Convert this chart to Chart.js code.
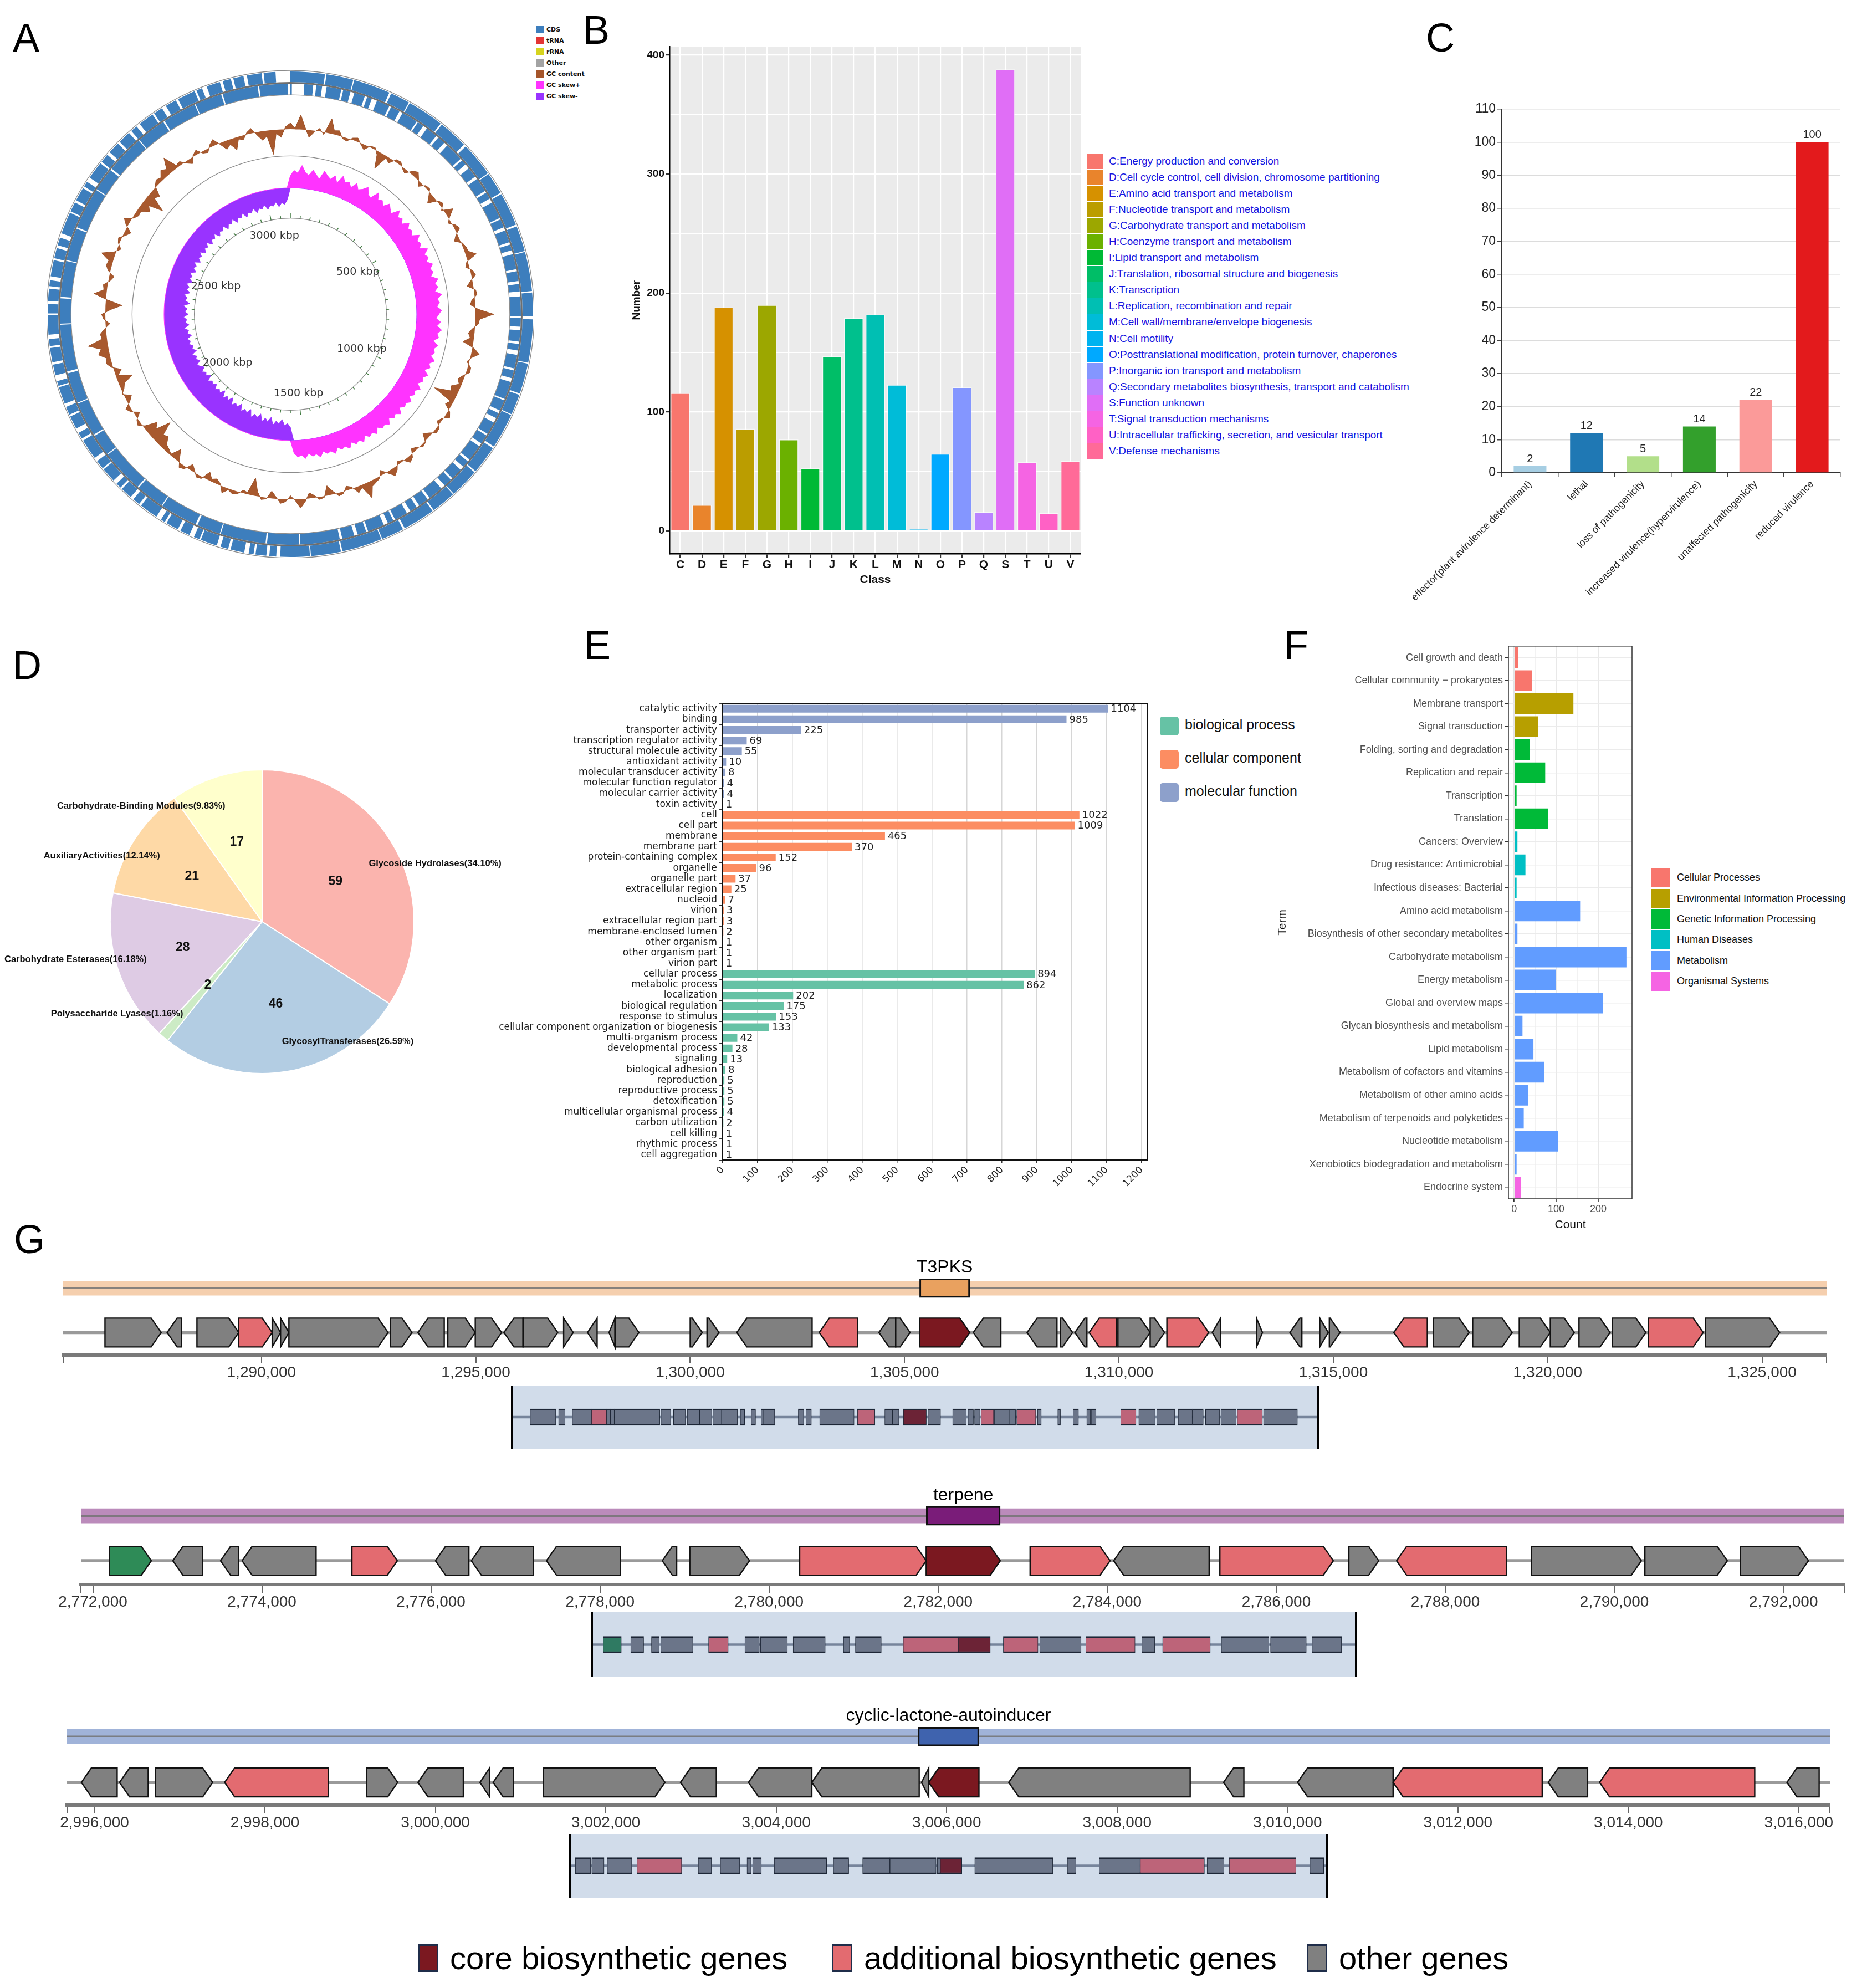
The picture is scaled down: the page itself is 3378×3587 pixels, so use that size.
<!DOCTYPE html>
<html lang="en">
<head>
<meta charset="UTF-8">
<title>Genome features</title>
<script src="https://cdn.jsdelivr.net/npm/chart.js"></script>
<style>
    html, body { margin: 0; padding: 0; background: #fff; }
    body { position: relative; width: 3378px; height: 3587px; overflow: hidden;
           font-family: "Liberation Sans", Arial, sans-serif; }
    canvas { position: absolute; }
    .tag { position: absolute; font-size: 72px; line-height: 1; color: #000; }
    .abs { position: absolute; }

    .legend-a { left: 968px; top: 43px; font: bold 11px "DejaVu Sans", sans-serif; color: #111; }
    .legend-a div { height: 20px; display: flex; align-items: center; }
    .legend-a span { width: 13px; height: 13px; margin-right: 5px; }

    .legend-b { left: 1962px; top: 276px; font-size: 19px; color: #1515e0; }
    .legend-b div { height: 29.1px; display: flex; align-items: center; }
    .legend-b span { width: 28px; height: 28px; margin-right: 11px; }

    .legend-e { left: 2093px; top: 1293px; font-size: 25px; color: #111; }
    .legend-e div { height: 60px; display: flex; align-items: flex-start; }
    .legend-e span { width: 34px; height: 34px; border-radius: 5px; margin-right: 11px; }

    .legend-f { left: 2980px; top: 1565px; font-size: 18px; color: #111; }
    .legend-f div { height: 37.4px; display: flex; align-items: center; }
    .legend-f span { width: 34px; height: 35px; margin-right: 12px; }

    .legend-g { top: 3504px; font-size: 58px; line-height: 58px; color: #000; display: flex; align-items: center; }
    .legend-g span { width: 37px; height: 50px; border: 3px solid #1f2d4a; box-sizing: border-box; margin-right: 21px; }
</style>
</head>
<body>
    <div class="tag" style="left:23px;top:32px;">A</div>
    <div class="tag" style="left:1052px;top:18px;">B</div>
    <div class="tag" style="left:2573px;top:32px;">C</div>
    <div class="tag" style="left:23px;top:1164px;">D</div>
    <div class="tag" style="left:1054px;top:1128px;">E</div>
    <div class="tag" style="left:2317px;top:1128px;">F</div>
    <div class="tag" style="left:25px;top:2200px;">G</div>

    <div class="abs legend-a">
        <div><span style="background:#3d7ebd"></span>CDS</div>
        <div><span style="background:#e33434"></span>tRNA</div>
        <div><span style="background:#d6d41e"></span>rRNA</div>
        <div><span style="background:#a3a3a3"></span>Other</div>
        <div><span style="background:#a5552a"></span>GC content</div>
        <div><span style="background:#ff33ff"></span>GC skew+</div>
        <div><span style="background:#9933ff"></span>GC skew-</div>
    </div>
    <div class="abs legend-b" id="legendB"></div>
    <div class="abs legend-e">
        <div><span style="background:#66c2a5"></span>biological process</div>
        <div><span style="background:#fc8d62"></span>cellular component</div>
        <div><span style="background:#8da0cb"></span>molecular function</div>
    </div>
    <div class="abs legend-f" id="legendF"></div>
    <div class="abs legend-g" style="left:754px;"><span style="background:#7b1820"></span>core biosynthetic genes</div>
    <div class="abs legend-g" style="left:1501px;"><span style="background:#e36b70"></span>additional biosynthetic genes</div>
    <div class="abs legend-g" style="left:2358px;"><span style="background:#808080"></span>other genes</div>

<script>
// ---------------- A: circular genome map ----------------
const genomeKbp = 3100;
// alternating gene / gap lengths (kbp) read around each strand ring
const cdsForward = [
    70,3, 55,2, 75,4, 40,2, 75,3, 60,5, 70,2, 45,3, 68,4, 52,2, 80,3, 48,6,
    88,2, 62,3, 42,2, 72,4, 58,3, 60,2, 50,3, 66,4, 46,2, 82,3, 61,2, 60,8,
    14,6, 22,4, 10,9, 28,5, 16,8, 34,3, 12,10, 20,6, 26,4, 9,11, 38,5, 15,7,
    24,4, 11,9, 30,3, 18,8, 42,5, 13,10, 27,4, 17,7, 35,3, 10,12, 22,5, 29,4,
    14,9, 40,3, 19,6, 25,5, 12,8, 33,4, 21,6, 16,9, 45,3, 20,5, 28,4, 11,10,
    36,4, 18,7, 24,5, 26,6, 14,8, 32,4, 19,9, 23,5, 37,4, 12,10, 28,6, 17,5,
    21,7, 30,4, 24,30
];
const cdsReverse = [
    3,25, 18,6, 12,9, 30,4, 15,8, 22,5, 10,11, 27,4, 19,7, 33,3, 13,9, 24,5,
    16,8, 38,4, 11,10, 21,6, 29,4, 14,9, 35,3, 17,7, 25,5, 12,8, 31,4, 20,6,
    15,10, 40,3, 18,7, 23,5, 13,9, 28,4, 16,8, 36,3, 22,6, 11,10, 26,4, 19,7,
    33,5, 14,8, 24,4, 17,9, 30,5, 21,6, 15,8, 27,4, 12,9, 34,4, 18,7, 25,5,
    80,2, 65,3, 92,2, 48,4, 76,2, 58,3, 88,2, 44,3, 70,2, 62,4, 95,2, 51,3,
    73,2, 66,3, 84,2, 47,4, 78,2, 60,3, 69,2, 55,3, 72,3, 58,5
];
// GC content deviation from the mean (%), one value every 1.5 degrees from the origin
const gcContent = [
    1.0,0.2, 2.4,0.4, -1.2,-0.2, 0.5,-0.4, 2.4,0.6, 0.8,-0.3, -0.5,0.3, 0.6,-0.2, -0.8,0.2, 0.3,-0.6,
    -2.7,-0.3, -0.8,0.4, 0.5,-0.2, -0.6,0.5, 1.0,0.2, -0.7,0.3, 0.4,-0.5, -1.4,0.2, 0.6,-0.3, 1.4,0.3,
    -0.5,0.4, 0.8,-0.3, -0.9,0.2, 0.5,0.6, 1.7,-0.2, -0.6,0.4, 0.7,-0.3, -1.0,0.3, 0.4,-0.5, -0.8,0.5,
    3.0,0.7, 0.5,-0.4, -1.0,-0.6, -1.7,0.3, 1.3,0.2, -0.4,0.5, 0.6,-0.3, -0.9,-0.4, -1.5,-1.2, -3.8,-0.5,
    -1.0,0.3, 0.8,-0.2, -0.6,0.4, 0.5,-0.4, -1.1,0.2, 0.4,-0.3, -0.7,0.5, 0.9,-0.2, -0.5,0.6, 1.2,0.2,
    -0.8,0.3, 0.6,0.9, 2.6,0.4, 1.0,-0.3, -0.7,0.3, 0.5,-0.5, -1.6,0.2, 0.4,-0.4, -0.9,0.5, 1.5,0.2,
    -0.6,0.4, 0.7,-0.3, -1.2,0.2, 0.4,-0.8, -2.9,-0.3, -0.5,0.4, 0.6,0.2, 1.0,-0.3, -0.8,-0.4, -1.3,0.3,
    0.5,-0.3, -1.0,0.4, 0.7,-0.5, -1.8,-0.2, -0.6,-0.9, -2.0,-1.6, -3.8,-1.4, -2.2,-0.3, 0.6,0.2, -0.9,0.3,
    0.8,-0.4, -1.1,0.2, -0.5,-0.9, -2.6,-0.4, -1.2,0.3, 0.9,0.6, 1.8,1.2, 3.2,0.8, 1.0,0.2, -0.7,0.3,
    0.6,-0.9, -2.7,-0.2, 2.0,0.5, 0.7,-0.3, -0.8,0.4, 0.9,0.7, 2.2,0.3, -0.6,0.2, 0.5,-0.4, -1.0,0.3,
    1.1,-0.2, -0.7,-0.6, -1.8,-1.1, -3.4,-1.0, -1.5,0.2, 0.8,0.5, 1.4,0.9, 2.6,0.4, 0.6,-0.3, -0.9,0.2,
    0.7,-0.3, -0.6,0.4, 1.0,-0.2, -1.4,-0.8, -2.0,-0.4, -0.7,0.3, 0.8,-0.5, -1.5,-0.9, -4.0,-0.6, -1.3,0.4
];
const gcSkew = [
    0.030,0.042,0.036,0.055,0.040,0.033,0.047,0.038,0.028,0.050,
    0.041,0.035,0.046,0.031,0.052,0.039,0.044,0.034,0.049,0.037,
    0.043,0.054,0.040,0.036,0.057,0.042,0.048,0.038,0.053,0.045,
    0.039,0.058,0.044,0.050,0.041,0.056,0.046,0.051,0.043,0.060,
    0.048,0.053,0.045,0.062,0.049,0.055,0.047,0.059,0.050,0.054,
    0.046,0.061,0.052,0.057,0.048,0.063,0.051,0.056,0.049,0.060,
    0.053,0.047,0.058,0.050,0.062,0.052,0.057,0.046,0.059,0.051,
    0.055,0.048,0.061,0.050,0.056,0.045,0.058,0.049,0.053,0.044,
    0.057,0.047,0.052,0.043,0.055,0.046,0.050,0.041,0.054,0.044,
    0.049,0.040,0.052,0.045,0.048,0.039,0.051,0.042,0.047,0.038,
    0.050,0.041,0.046,0.037,0.049,0.040,0.044,0.036,0.048,0.039,
    0.043,0.035,0.047,0.038,0.042,0.034,0.045,0.036,0.040,0.030,
    -0.032,-0.041,-0.036,-0.050,-0.039,-0.045,-0.034,-0.052,-0.040,-0.047,
    -0.037,-0.054,-0.043,-0.049,-0.039,-0.056,-0.045,-0.051,-0.042,-0.058,
    -0.047,-0.053,-0.044,-0.060,-0.049,-0.055,-0.046,-0.062,-0.050,-0.056,
    -0.048,-0.059,-0.052,-0.057,-0.049,-0.063,-0.053,-0.058,-0.050,-0.061,
    -0.054,-0.048,-0.060,-0.052,-0.057,-0.047,-0.062,-0.053,-0.058,-0.050,
    -0.055,-0.049,-0.061,-0.052,-0.056,-0.046,-0.059,-0.051,-0.054,-0.047,
    -0.058,-0.050,-0.055,-0.045,-0.060,-0.049,-0.053,-0.044,-0.057,-0.048,
    -0.052,-0.043,-0.056,-0.047,-0.051,-0.042,-0.055,-0.046,-0.050,-0.041,
    -0.054,-0.045,-0.049,-0.040,-0.053,-0.044,-0.048,-0.039,-0.052,-0.043,
    -0.047,-0.038,-0.051,-0.042,-0.046,-0.037,-0.050,-0.041,-0.045,-0.036,
    -0.049,-0.040,-0.044,-0.035,-0.048,-0.039,-0.043,-0.034,-0.047,-0.038,
    -0.042,-0.033,-0.046,-0.037,-0.041,-0.032,-0.044,-0.035,-0.039,-0.028
];

// ---------------- B: COG ----------------
const cogClasses = ['C','D','E','F','G','H','I','J','K','L','M','N','O','P','Q','S','T','U','V'];
const cogCounts = [116, 22, 188, 86, 190, 77, 53, 147, 179, 182, 123, 2, 65, 121, 16, 388, 58, 15, 59];
const cogNames = [
    'Energy production and conversion',
    'Cell cycle control, cell division, chromosome partitioning',
    'Amino acid transport and metabolism',
    'Nucleotide transport and metabolism',
    'Carbohydrate transport and metabolism',
    'Coenzyme transport and metabolism',
    'Lipid transport and metabolism',
    'Translation, ribosomal structure and biogenesis',
    'Transcription',
    'Replication, recombination and repair',
    'Cell wall/membrane/envelope biogenesis',
    'Cell motility',
    'Posttranslational modification, protein turnover, chaperones',
    'Inorganic ion transport and metabolism',
    'Secondary metabolites biosynthesis, transport and catabolism',
    'Function unknown',
    'Signal transduction mechanisms',
    'Intracellular trafficking, secretion, and vesicular transport',
    'Defense mechanisms'
];
const cogColors = ['#F8766D','#E9842C','#D69100','#BB9D00','#9CA700','#6BB100','#00B935','#00BE67','#00C08D',
                   '#00BFB3','#00BCD8','#00B3F0','#00A9FF','#8496FF','#B983FF','#E06EF6','#F564E3','#FF61C5','#FF6A98'];
const cogTicks = [0, 50, 100, 150, 200, 250, 300, 350, 400];

// ---------------- C: PHI ----------------
const phiTypes = ['effector(plant avirulence determinant)', 'lethal', 'loss of pathogenicity',
                  'increased virulence(hypervirulence)', 'unaffected pathogenicity', 'reduced virulence'];
const phiCounts = [2, 12, 5, 14, 22, 100];

// ---------------- D: CAZy ----------------
const cazyClasses = ['Glycoside Hydrolases', 'GlycosylTransferases', 'Polysaccharide Lyases',
                     'Carbohydrate Esterases', 'AuxiliaryActivities', 'Carbohydrate-Binding Modules'];
const cazyCounts = [59, 46, 2, 28, 21, 17];

// ---------------- E: GO ----------------
const mfTerms = ['catalytic activity','binding','transporter activity','transcription regulator activity',
    'structural molecule activity','antioxidant activity','molecular transducer activity',
    'molecular function regulator','molecular carrier activity','toxin activity'];
const mfCounts = [1104, 985, 225, 69, 55, 10, 8, 4, 4, 1];
const ccTerms = ['cell','cell part','membrane','membrane part','protein-containing complex','organelle',
    'organelle part','extracellular region','nucleoid','virion','extracellular region part',
    'membrane-enclosed lumen','other organism','other organism part','virion part'];
const ccCounts = [1022, 1009, 465, 370, 152, 96, 37, 25, 7, 3, 3, 2, 1, 1, 1];
const bpTerms = ['cellular process','metabolic process','localization','biological regulation',
    'response to stimulus','cellular component organization or biogenesis','multi-organism process',
    'developmental process','signaling','biological adhesion','reproduction','reproductive process',
    'detoxification','multicellular organismal process','carbon utilization','cell killing',
    'rhythmic process','cell aggregation'];
const bpCounts = [894, 862, 202, 175, 153, 133, 42, 28, 13, 8, 5, 5, 5, 4, 2, 1, 1, 1];
const goTicks = [0, 100, 200, 300, 400, 500, 600, 700, 800, 900, 1000, 1100, 1200];

// ---------------- F: KEGG ----------------
const keggLevels = ['Cellular Processes','Environmental Information Processing','Genetic Information Processing',
                    'Human Diseases','Metabolism','Organismal Systems'];
const keggLevelColors = ['#F8766D','#B79F00','#00BA38','#00BFC4','#619CFF','#F564E3'];
const keggTerms = ['Cell growth and death','Cellular community \u2212 prokaryotes','Membrane transport',
    'Signal transduction','Folding, sorting and degradation','Replication and repair','Transcription',
    'Translation','Cancers: Overview','Drug resistance: Antimicrobial','Infectious diseases: Bacterial',
    'Amino acid metabolism','Biosynthesis of other secondary metabolites','Carbohydrate metabolism',
    'Energy metabolism','Global and overview maps','Glycan biosynthesis and metabolism','Lipid metabolism',
    'Metabolism of cofactors and vitamins','Metabolism of other amino acids',
    'Metabolism of terpenoids and polyketides','Nucleotide metabolism',
    'Xenobiotics biodegradation and metabolism','Endocrine system'];
const keggCounts = [10, 42, 141, 57, 38, 74, 6, 81, 8, 27, 6, 157, 8, 267, 99, 211, 20, 46, 72, 34, 23, 105, 6, 16];
const keggLevelOf = [0, 0, 1, 1, 2, 2, 2, 2, 3, 3, 3, 4, 4, 4, 4, 4, 4, 4, 4, 4, 4, 4, 4, 5];
const keggTicks = [0, 50, 100, 150, 200, 250];

// ---------------- G: antiSMASH clusters  [start, end, strand, kind] ----------------
const pksRange = [1285375, 1326504];
const pksCore = [1305350, 1306520];
const pksTicks = [1290000, 1295000, 1300000, 1305000, 1310000, 1315000, 1320000, 1325000];
const pksGenes = [
    [1286350,1287660,1,'o'],[1287800,1288133,-1,'o'],[1288495,1289470,1,'o'],[1289470,1290250,1,'a'],
    [1290250,1290445,1,'o'],[1290445,1290640,1,'o'],[1290640,1292953,1,'o'],[1293009,1293510,1,'o'],
    [1293650,1294263,-1,'o'],[1294346,1294987,1,'o'],[1294987,1295600,1,'o'],[1295656,1296101,-1,'o'],
    [1296101,1296909,1,'o'],[1297048,1297271,1,'o'],[1297605,1297828,-1,'o'],[1298107,1298246,-1,'o'],
    [1298246,1298803,1,'o'],[1300000,1300280,1,'o'],[1300392,1300670,1,'o'],[1301088,1302843,-1,'o'],
    [1303010,1303902,-1,'a'],[1304403,1304793,-1,'o'],[1304793,1305128,1,'o'],[1305350,1306520,1,'c'],
    [1306604,1307245,-1,'o'],[1307858,1308554,-1,'o'],[1308638,1308917,1,'o'],[1308973,1309252,-1,'o'],
    [1309307,1309948,-1,'a'],[1309976,1310728,1,'o'],[1310728,1311063,1,'o'],[1311118,1312093,1,'a'],
    [1312177,1312372,-1,'o'],[1313208,1313347,1,'o'],[1313988,1314266,-1,'o'],[1314684,1314880,1,'o'],
    [1314907,1315158,1,'o'],[1316412,1317192,-1,'a'],[1317332,1318168,1,'o'],[1318250,1319170,1,'o'],
    [1319337,1320061,1,'o'],[1320061,1320618,1,'o'],[1320730,1321454,1,'o'],[1321510,1322290,1,'o'],
    [1322345,1323627,1,'a'],[1323683,1325410,1,'o']
];
const terpeneRange = [2771859, 2792720];
const terpeneCore = [2781859, 2782735];
const terpeneTicks = [2772000, 2774000, 2776000, 2778000, 2780000, 2782000, 2784000, 2786000, 2788000, 2790000, 2792000];
const terpeneGenes = [
    [2772198,2772692,1,'t'],[2772947,2773300,-1,'o'],[2773511,2773723,-1,'o'],[2773766,2774641,-1,'o'],
    [2775065,2775602,1,'a'],[2776054,2776449,-1,'o'],[2776478,2777212,-1,'o'],[2777367,2778243,-1,'o'],
    [2778737,2778907,-1,'o'],[2779062,2779768,1,'o'],[2780362,2781859,1,'a'],[2781859,2782735,1,'c'],
    [2783088,2784034,1,'a'],[2784077,2785206,-1,'o'],[2785333,2786675,1,'a'],[2786859,2787212,1,'o'],
    [2787424,2788723,-1,'a'],[2789020,2790319,1,'o'],[2790361,2791336,1,'o'],[2791491,2792296,1,'o']
];
const lactoneRange = [2995678, 3016365];
const lactoneCore = [3005664, 3006379];
const lactoneTicks = [2996000, 2998000, 3000000, 3002000, 3004000, 3006000, 3008000, 3010000, 3012000, 3014000, 3016000];
const lactoneGenes = [
    [2995846,2996266,-1,'o'],[2996294,2996630,-1,'o'],[2996714,2997387,1,'o'],[2997527,2998745,-1,'a'],
    [2999194,2999558,1,'o'],[2999796,3000328,-1,'o'],[3000524,3000636,-1,'o'],[3000678,3000916,-1,'o'],
    [3001266,3002695,1,'o'],[3002877,3003297,-1,'o'],[3003675,3004418,-1,'o'],[3004418,3005678,-1,'o'],
    [3005706,3005790,-1,'o'],[3005790,3006379,-1,'c'],[3006729,3008858,-1,'o'],[3009250,3009488,-1,'o'],
    [3010118,3011239,-1,'o'],[3011239,3012989,-1,'a'],[3013060,3013522,-1,'o'],[3013662,3015483,-1,'a'],
    [3015861,3016239,-1,'o']
];

// ---------------- setup ----------------
Chart.defaults.animation = false;
Chart.defaults.responsive = false;
Chart.defaults.font.family = '"Liberation Sans", Arial, sans-serif';
Chart.defaults.color = '#222';
Chart.defaults.plugins.legend.display = false;
Chart.defaults.plugins.tooltip.enabled = false;

function canvasAt(left, top, w, h) {
    const c = document.createElement('canvas');
    c.width = w; c.height = h;
    c.style.left = left + 'px'; c.style.top = top + 'px';
    c.style.width = w + 'px'; c.style.height = h + 'px';
    document.body.appendChild(c);
    return c;
}
// afterBuildTicks helper: replace the generated ticks with a fixed list
const tickList = arr => scale => { scale.ticks = arr.map(v => ({ value: v })); };

// shared plugins
const areaFill = {
    id: 'areaFill',
    beforeDraw(chart, args, opts) {
        if (!opts.color) return;
        const a = chart.chartArea, ctx = chart.ctx;
        ctx.save(); ctx.fillStyle = opts.color; ctx.fillRect(a.left, a.top, a.width, a.height); ctx.restore();
    }
};
const frame = {
    id: 'frame',
    afterDraw(chart, args, opts) {
        if (!opts.color) return;
        const a = chart.chartArea, ctx = chart.ctx;
        ctx.save(); ctx.strokeStyle = opts.color; ctx.lineWidth = opts.width || 1.5;
        ctx.strokeRect(a.left, a.top, a.width, a.height); ctx.restore();
    }
};
const barValues = {
    id: 'barValues',
    afterDatasetsDraw(chart, args, opts) {
        const ctx = chart.ctx, values = chart.data.datasets[0].data;
        ctx.save(); ctx.font = opts.font; ctx.fillStyle = '#222';
        chart.getDatasetMeta(0).data.forEach((bar, i) => {
            if (opts.horizontal) {
                ctx.textAlign = 'left'; ctx.textBaseline = 'middle';
                ctx.fillText(values[i], bar.x + 5, bar.y + 1);
            } else {
                ctx.textAlign = 'center'; ctx.textBaseline = 'bottom';
                ctx.fillText(values[i], bar.x, bar.y - 3);
            }
        });
        ctx.restore();
    }
};

// ---------------- A ----------------
const mapBox = [84, 127, 880, 880];
const ringColors = arr => arr.map((_, i) => (i % 2 ? 'rgba(255,255,255,0)' : '#3d7ebd'));

new Chart(canvasAt(...mapBox), {
    type: 'doughnut',
    data: {
        datasets: [
            { data: cdsForward, backgroundColor: ringColors(cdsForward), borderWidth: 0, weight: 19 },
            { data: [genomeKbp], backgroundColor: '#6e6e6e', borderWidth: 0, weight: 3 },
            { data: cdsReverse, backgroundColor: ringColors(cdsReverse), borderWidth: 0, weight: 20 }
        ]
    },
    options: { cutout: 396, layout: { padding: 2 } }
});

new Chart(canvasAt(...mapBox), {
    type: 'radar',
    data: {
        labels: gcContent.map((_, i) => i),
        datasets: [{ data: gcContent, borderColor: '#9c4f25', backgroundColor: '#a8592e', borderWidth: 1,
                     pointRadius: 0, fill: { value: 0 } }]
    },
    options: { scales: { r: { display: false, min: -334 / 11, max: -334 / 11 + 440 / 11, grid: { circular: true } } } }
});

new Chart(canvasAt(...mapBox), {
    type: 'radar',
    data: {
        labels: gcSkew.map((_, i) => i),
        datasets: [
            { data: gcSkew.map(v => Math.max(v, 0)), borderColor: '#ff33ff', backgroundColor: '#ff33ff',
              borderWidth: 1, pointRadius: 0, fill: { value: 0 } },
            { data: gcSkew.map(v => Math.min(v, 0)), borderColor: '#9933ff', backgroundColor: '#9933ff',
              borderWidth: 1, pointRadius: 0, fill: { value: 0 } }
        ]
    },
    options: { scales: { r: { display: false, min: -228 / 750, max: -228 / 750 + 440 / 750, grid: { circular: true } } } }
});

const mapTickKbp = Array.from({ length: genomeKbp / 50 }, (_, i) => i * 50);
const ringTicks = {
    id: 'ringTicks',
    afterDraw(chart) {
        const s = chart.scales.r, ctx = chart.ctx;
        const r0 = s.getDistanceFromCenterForValue(1);
        ctx.save();
        ctx.strokeStyle = '#3f7a3f'; ctx.lineWidth = 1.5;
        ctx.font = '19px "DejaVu Sans", sans-serif'; ctx.fillStyle = '#333';
        ctx.textAlign = 'center'; ctx.textBaseline = 'middle';
        mapTickKbp.forEach((kbp, i) => {
            const major = kbp % 500 === 0;
            const p0 = s.getPointPosition(i, r0), p1 = s.getPointPosition(i, r0 + (major ? 9 : 5));
            ctx.beginPath(); ctx.moveTo(p0.x, p0.y); ctx.lineTo(p1.x, p1.y); ctx.stroke();
            if (major && kbp > 0) {
                const p = s.getPointPosition(i, r0 - 30);
                ctx.fillText(kbp + ' kbp', p.x, p.y);
            }
        });
        ctx.restore();
    }
};
new Chart(canvasAt(...mapBox), {
    type: 'radar',
    data: { labels: mapTickKbp, datasets: [] },
    options: {
        scales: {
            r: {
                min: 0, max: 439 / 173,
                afterBuildTicks: tickList([0, 1, 285 / 173, 395 / 173, 439 / 173]),
                ticks: { display: false },
                pointLabels: { display: false },
                angleLines: { display: false },
                grid: { circular: true, color: '#8c8c8c', lineWidth: 1.3 }
            }
        }
    },
    plugins: [ringTicks]
});

// ---------------- B ----------------
document.getElementById('legendB').innerHTML = cogClasses.map((c, i) =>
    `<div><span style="background:${cogColors[i]}"></span>${c}:${cogNames[i]}</div>`).join('');

new Chart(canvasAt(1135, 70, 816, 989), {
    type: 'bar',
    data: {
        labels: cogClasses,
        datasets: [{ data: cogCounts, backgroundColor: cogColors, borderColor: 'rgba(255,255,255,0.6)',
                     borderWidth: 1.5, barPercentage: 0.9, categoryPercentage: 1 }]
    },
    options: {
        layout: { padding: { top: 10 } },
        plugins: { areaFill: { color: '#ebebeb' } },
        scales: {
            x: {
                grid: { offset: false, color: '#fff', lineWidth: 2.2, tickLength: 7, tickColor: '#333' },
                border: { color: '#000', width: 2.5 },
                ticks: { autoSkip: false, color: '#111', padding: 1, font: { size: 21, weight: 'bold' } },
                title: { display: true, text: 'Class', color: '#111', padding: 0, font: { size: 21, weight: 'bold' } },
                afterFit: s => { s.height = 60; }
            },
            y: {
                min: -19, max: 407,
                afterBuildTicks: tickList(cogTicks),
                grid: {
                    color: '#fff',
                    lineWidth: c => (c.tick && c.tick.value % 100 === 0 ? 2.2 : 1),
                    tickColor: c => (c.tick && c.tick.value % 100 === 0 ? '#333' : 'rgba(0,0,0,0)'),
                    tickLength: 6
                },
                border: { color: '#000', width: 2.5 },
                ticks: { callback: v => (v % 100 === 0 ? v : ''), color: '#111', font: { size: 19, weight: 'bold' } },
                title: { display: true, text: 'Number', color: '#111', padding: 2, font: { size: 19, weight: 'bold' } },
                afterFit: s => { s.width = 73; }
            }
        }
    },
    plugins: [areaFill]
});

// ---------------- C ----------------
new Chart(canvasAt(2530, 170, 805, 933), {
    type: 'bar',
    data: {
        labels: phiTypes,
        datasets: [{ data: phiCounts, backgroundColor: ['#a6cee3','#1f78b4','#b2df8a','#33a02c','#fb9a99','#e31a1c'],
                     barPercentage: 0.58, categoryPercentage: 1 }]
    },
    options: {
        layout: { padding: { top: 27, right: 14 } },
        plugins: { barValues: { font: '20px "Liberation Sans", Arial, sans-serif' } },
        scales: {
            x: {
                grid: { display: true, drawOnChartArea: false, tickLength: 8, color: '#444', lineWidth: 1.5 },
                border: { color: '#333', width: 1.5 },
                ticks: { autoSkip: false, minRotation: 45, maxRotation: 45, color: '#222', padding: 2, font: { size: 18 } },
                afterFit: s => { s.height = 250; s.paddingLeft = 0; s.paddingRight = 0; }
            },
            y: {
                min: 0, max: 110,
                ticks: { stepSize: 10, color: '#222', font: { size: 23 }, padding: 3 },
                grid: { color: '#dcdcdc', lineWidth: 1.5, tickLength: 8, tickColor: '#444' },
                border: { color: '#333', width: 1.5 },
                afterFit: s => { s.width = 180; }
            }
        }
    },
    plugins: [barValues]
});

// ---------------- D ----------------
const cazyTotal = cazyCounts.reduce((a, b) => a + b, 0);
const pieText = {
    id: 'pieText',
    afterDatasetsDraw(chart) {
        const ctx = chart.ctx;
        ctx.save(); ctx.fillStyle = '#111'; ctx.textBaseline = 'middle';
        chart.getDatasetMeta(0).data.forEach((arc, i) => {
            const { x, y, startAngle, endAngle, outerRadius } = arc.getProps(['x', 'y', 'startAngle', 'endAngle', 'outerRadius'], true);
            const mid = (startAngle + endAngle) / 2, cos = Math.cos(mid), sin = Math.sin(mid);
            ctx.font = 'bold 16.5px "Liberation Sans", Arial, sans-serif';
            ctx.textAlign = cos >= 0 ? 'left' : 'right';
            const pct = (cazyCounts[i] / cazyTotal * 100).toFixed(2);
            ctx.fillText(`${cazyClasses[i]}(${pct}%)`, x + cos * outerRadius * 0.8, y + sin * outerRadius * 0.8);
            ctx.font = 'bold 23px "Liberation Sans", Arial, sans-serif';
            ctx.textAlign = 'center';
            ctx.fillText(cazyCounts[i], x + cos * outerRadius * 0.55, y + sin * outerRadius * 0.55);
        });
        ctx.restore();
    }
};
new Chart(canvasAt(0, 1388, 946, 550), {
    type: 'pie',
    data: {
        labels: cazyClasses,
        datasets: [{ data: cazyCounts, backgroundColor: ['#fbb4ae','#b3cde3','#ccebc5','#decbe4','#fed9a6','#ffffcc'],
                     borderColor: '#fff', borderWidth: 2 }]
    },
    plugins: [pieText]
});

// ---------------- E ----------------
const goLabels = [...mfTerms, ...ccTerms, ...bpTerms];
const goCounts = [...mfCounts, ...ccCounts, ...bpCounts];
const goColors = [...mfTerms.map(() => '#8da0cb'), ...ccTerms.map(() => '#fc8d62'), ...bpTerms.map(() => '#66c2a5')];
new Chart(canvasAt(864, 1255, 1218, 898), {
    type: 'bar',
    data: { labels: goLabels, datasets: [{ data: goCounts, backgroundColor: goColors, barPercentage: 0.74, categoryPercentage: 1 }] },
    options: {
        indexAxis: 'y',
        layout: { padding: { top: 10, right: 12 } },
        plugins: { barValues: { horizontal: true, font: '18px "DejaVu Sans", sans-serif' }, frame: { color: '#111', width: 2 } },
        scales: {
            x: {
                min: 0, max: 1216,
                afterBuildTicks: tickList(goTicks),
                grid: { color: '#d6d6d6', lineWidth: 1.5, tickLength: 6, tickColor: '#333' },
                border: { color: '#111', width: 2 },
                ticks: { autoSkip: false, minRotation: 45, maxRotation: 45, color: '#222', padding: 2,
                         callback: v => String(v), font: { family: '"DejaVu Sans", sans-serif', size: 17 } },
                afterFit: s => { s.height = 60; s.paddingLeft = 0; s.paddingRight = 0; }
            },
            y: {
                grid: { drawOnChartArea: false, tickLength: 6, color: '#333' },
                border: { color: '#111', width: 2 },
                ticks: { autoSkip: false, color: '#1a1a1a', padding: 4, font: { family: '"DejaVu Sans", sans-serif', size: 17 } },
                afterFit: s => { s.width = 440; }
            }
        }
    },
    plugins: [barValues, frame]
});

// ---------------- F ----------------
document.getElementById('legendF').innerHTML = keggLevels.map((n, i) =>
    `<div><span style="background:${keggLevelColors[i]}"></span>${n}</div>`).join('');
new Chart(canvasAt(2300, 1152, 650, 1071), {
    type: 'bar',
    data: {
        labels: keggTerms,
        datasets: [{ data: keggCounts, backgroundColor: keggLevelOf.map(k => keggLevelColors[k]),
                     barPercentage: 0.9, categoryPercentage: 1 }]
    },
    options: {
        indexAxis: 'y',
        layout: { padding: { top: 10, right: 5 } },
        plugins: { frame: { color: '#333', width: 1.5 } },
        scales: {
            x: {
                min: -13.35, max: 280.35,
                afterBuildTicks: tickList(keggTicks),
                grid: {
                    color: c => (c.tick && c.tick.value % 100 === 0 ? '#e3e3e3' : '#f2f2f2'),
                    lineWidth: c => (c.tick && c.tick.value % 100 === 0 ? 1.8 : 1),
                    tickColor: c => (c.tick && c.tick.value % 100 === 0 ? '#333' : 'rgba(0,0,0,0)'),
                    tickLength: 6
                },
                border: { display: false },
                ticks: { callback: v => (v % 100 === 0 ? v : ''), color: '#4d4d4d', padding: 2, font: { size: 18 } },
                title: { display: true, text: 'Count', color: '#111', padding: 0, font: { size: 21 } },
                afterFit: s => { s.height = 60; }
            },
            y: {
                grid: { offset: false, color: '#ebebeb', lineWidth: 1.5, tickLength: 7, tickColor: '#333' },
                border: { display: false },
                ticks: { autoSkip: false, color: '#4d4d4d', padding: 3, font: { size: 18 } },
                title: { display: true, text: 'Term', color: '#111', padding: 2, font: { size: 21 } },
                afterFit: s => { s.width = 422; }
            }
        }
    },
    plugins: [frame]
});

// ---------------- G ----------------
const geneFill = { o: '#808080', a: '#e36b70', c: '#7b1820', t: '#2e8b57' };
const geneFillMini = { o: '#6b7589', a: '#bd6479', c: '#6c2336', t: '#2f7a62' };

const geneArrows = {
    id: 'geneArrows',
    beforeDatasetDraw(chart, args) {
        if (chart.data.datasets[args.index].strands) return false;
    },
    afterDatasetsDraw(chart) {
        const ctx = chart.ctx;
        chart.data.datasets.forEach((ds, di) => {
            if (!ds.strands) return;
            chart.getDatasetMeta(di).data.forEach((bar, i) => {
                const { x, base, y, height } = bar.getProps(['x', 'base', 'y', 'height'], true);
                const l = Math.min(x, base), r = Math.max(x, base);
                const t = y - height / 2, b = y + height / 2;
                const head = Math.min(r - l, 18);
                ctx.beginPath();
                if (ds.strands[i] > 0) {
                    ctx.moveTo(l, t); ctx.lineTo(r - head, t); ctx.lineTo(r, y); ctx.lineTo(r - head, b); ctx.lineTo(l, b);
                } else {
                    ctx.moveTo(r, t); ctx.lineTo(l + head, t); ctx.lineTo(l, y); ctx.lineTo(l + head, b); ctx.lineTo(r, b);
                }
                ctx.closePath();
                ctx.fillStyle = bar.options.backgroundColor; ctx.fill();
                ctx.lineWidth = 2.4; ctx.strokeStyle = '#111'; ctx.stroke();
            });
        });
    }
};
const clusterName = {
    id: 'clusterName',
    afterDatasetsDraw(chart) {
        const ctx = chart.ctx;
        chart.data.datasets.forEach((ds, di) => {
            if (!ds.clusterName) return;
            const bar = chart.getDatasetMeta(di).data[0];
            ctx.save();
            ctx.font = '32px "Liberation Sans", Arial, sans-serif'; ctx.fillStyle = '#000';
            ctx.textAlign = 'center'; ctx.textBaseline = 'middle';
            ctx.fillText(ds.clusterName, (bar.x + bar.base) / 2, bar.y - 37);
            ctx.restore();
        });
    }
};
const overviewBox = {
    id: 'overviewBox',
    beforeDraw(chart) {
        const ctx = chart.ctx;
        ctx.save(); ctx.fillStyle = '#d1dcea'; ctx.fillRect(0, 0, chart.width, chart.height); ctx.restore();
    },
    afterDraw(chart) {
        const ctx = chart.ctx;
        ctx.save(); ctx.fillStyle = '#000';
        ctx.fillRect(0, 0, 4, chart.height); ctx.fillRect(chart.width - 4, 0, 4, chart.height);
        ctx.restore();
    }
};

function clusterTrack(t) {
    const areaH = t.axisY - t.top;
    const geneY = t.axisY - t.geneCenter, bandY = t.axisY - t.bandCenter;
    const one = (range, y) => [{ x: range, y: y }];
    new Chart(canvasAt(0, t.top, 3378, areaH + 52), {
        type: 'bar',
        data: {
            datasets: [
                { data: one(t.range, bandY), backgroundColor: t.band, barThickness: 26, grouped: false, order: 5 },
                { data: one(t.range, bandY), backgroundColor: 'rgba(115,115,115,0.85)', barThickness: 3, grouped: false, order: 4 },
                { data: one(t.core, bandY), backgroundColor: t.coreColor, borderColor: '#111', borderWidth: 3,
                  borderSkipped: false, barThickness: 34, grouped: false, order: 3, clusterName: t.name },
                { data: one(t.range, geneY), backgroundColor: '#9a9a9a', barThickness: 5, grouped: false, order: 2 },
                { data: t.genes.map(g => ({ x: [g[0], g[1]], y: geneY })), backgroundColor: t.genes.map(g => geneFill[g[3]]),
                  strands: t.genes.map(g => g[2]), barThickness: 52, grouped: false, order: 1 }
            ]
        },
        options: {
            indexAxis: 'y',
            layout: { padding: { left: t.axisLeft, right: 3378 - t.axisRight } },
            scales: {
                x: {
                    type: 'linear', min: t.range[0], max: t.range[1],
                    afterBuildTicks: tickList([t.range[0], ...t.ticks, t.range[1]]),
                    grid: { drawOnChartArea: false, tickLength: 15, color: '#666', lineWidth: 2 },
                    border: { color: '#7a7a7a', width: 6 },
                    ticks: { autoSkip: false, maxRotation: 0, color: '#333', padding: 0, font: { size: 28 },
                             callback: v => (t.ticks.includes(v) ? v.toLocaleString('en-US') : '') },
                    afterFit: s => { s.height = 52; s.paddingLeft = 0; s.paddingRight = 0; }
                },
                y: { type: 'linear', display: false, min: 0, max: areaH }
            }
        },
        plugins: [geneArrows, clusterName]
    });

    const ov = t.overview;
    new Chart(canvasAt(ov[0], ov[1], ov[2], ov[3]), {
        type: 'bar',
        data: {
            datasets: [
                { data: one(t.range, ov[3] / 2), backgroundColor: 'rgba(95,110,135,0.8)', barThickness: 4, grouped: false, order: 2 },
                { data: t.genes.map(g => ({ x: [g[0], g[1]], y: ov[3] / 2 })), backgroundColor: t.genes.map(g => geneFillMini[g[3]]),
                  borderColor: '#1d2636', borderWidth: { top: 3, bottom: 3, left: 1, right: 1 }, borderSkipped: false,
                  barThickness: 30, grouped: false, order: 1 }
            ]
        },
        options: {
            indexAxis: 'y',
            scales: {
                x: { type: 'linear', display: false, min: t.range[0], max: t.range[1] },
                y: { type: 'linear', display: false, min: 0, max: ov[3] }
            }
        },
        plugins: [overviewBox]
    });
}

clusterTrack({ name: 'T3PKS', genes: pksGenes, range: pksRange, core: pksCore, ticks: pksTicks,
    band: '#f5cfae', coreColor: '#e9a15f', top: 2262, axisY: 2445, geneCenter: 2410, bandCenter: 2321,
    axisLeft: 114, axisRight: 3296, overview: [922, 2500, 1458, 114] });
clusterTrack({ name: 'terpene', genes: terpeneGenes, range: terpeneRange, core: terpeneCore, ticks: terpeneTicks,
    band: '#bb8bbb', coreColor: '#7a1c79', top: 2668, axisY: 2859, geneCenter: 2822, bandCenter: 2732,
    axisLeft: 146, axisRight: 3328, overview: [1066, 2909, 1383, 117] });
clusterTrack({ name: 'cyclic-lactone-autoinducer', genes: lactoneGenes, range: lactoneRange, core: lactoneCore, ticks: lactoneTicks,
    band: '#a0b3d9', coreColor: '#3f63ae', top: 3068, axisY: 3257, geneCenter: 3222, bandCenter: 3130,
    axisLeft: 121, axisRight: 3302, overview: [1027, 3309, 1370, 115] });
</script>
</body>
</html>
